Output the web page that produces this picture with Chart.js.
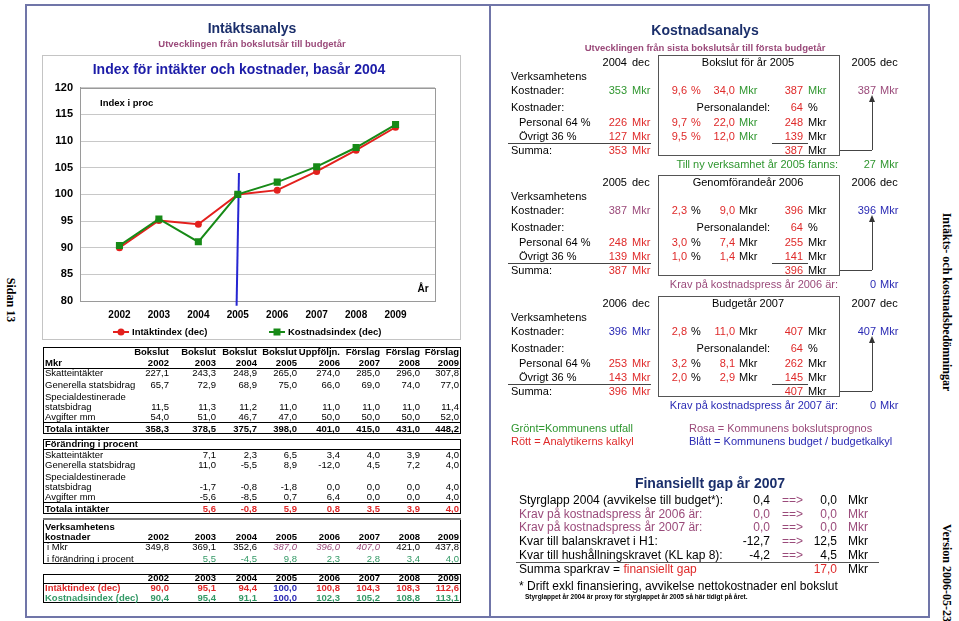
<!DOCTYPE html>
<html lang="sv">
<head>
<meta charset="utf-8">
<title>Intäkts- och kostnadsbedömningar</title>
<script src="https://cdn.jsdelivr.net/npm/chart.js@4.4.1/dist/chart.umd.min.js"></script>
<style>
  html, body { margin: 0; padding: 0; background: #fff; }
  body { position: relative; width: 959px; height: 621px; overflow: hidden; font-family: Arial, "Liberation Sans", sans-serif; }
  .t { position: absolute; white-space: nowrap; line-height: 1; font-size: 11px; color: #000; }
  .t.tab { line-height: 0.8; }
  .ln { position: absolute; background: #000; }
  .bx { position: absolute; box-sizing: border-box; }
  .pil { position: absolute; width: 0; height: 0; border-left: 3px solid transparent; border-right: 3px solid transparent; border-bottom: 7px solid #333; }
  .side { position: absolute; font-family: "Liberation Serif", "Times New Roman", serif; font-weight: bold; font-size: 12px; white-space: nowrap; line-height: 1; transform: translate(-50%, -50%) rotate(90deg); }
  #chartWrap { position: absolute; left: 43px; top: 56px; width: 417px; height: 283px; }
</style>
</head>
<body>
<div id="chartWrap"><canvas id="indexChart" width="417" height="283"></canvas></div>
<script>
// Chart data
const ar = [2002, 2003, 2004, 2005, 2006, 2007, 2008, 2009];
const intaktIndex = [90.0, 95.1, 94.4, 100.0, 100.8, 104.3, 108.3, 112.6];
const kostnadsIndex = [90.4, 95.4, 91.1, 100.0, 102.3, 105.2, 108.8, 113.1];
// blue marker line at the base year (drawn a bit past the axis)
const basX = [2005.03, 2004.97];
const basY = [104.0, 79.1];

// Table data (Mkr)
const rubrik = ["Bokslut", "Bokslut", "Bokslut", "Bokslut", "Uppföljn.", "Förslag", "Förslag", "Förslag"];
const skatteintakter = [227.1, 243.3, 248.9, 265.0, 274.0, 285.0, 296.0, 307.8];
const generella = [65.7, 72.9, 68.9, 75.0, 66.0, 69.0, 74.0, 77.0];
const specialdest = [11.5, 11.3, 11.2, 11.0, 11.0, 11.0, 11.0, 11.4];
const avgifter = [54.0, 51.0, 46.7, 47.0, 50.0, 50.0, 50.0, 52.0];
const totala = [358.3, 378.5, 375.7, 398.0, 401.0, 415.0, 431.0, 448.2];
const skattePct = [null, 7.1, 2.3, 6.5, 3.4, 4.0, 3.9, 4.0];
const generellaPct = [null, 11.0, -5.5, 8.9, -12.0, 4.5, 7.2, 4.0];
const specialPct = [null, -1.7, -0.8, -1.8, 0.0, 0.0, 0.0, 4.0];
const avgifterPct = [null, -5.6, -8.5, 0.7, 6.4, 0.0, 0.0, 4.0];
const totalaPct = [null, 5.6, -0.8, 5.9, 0.8, 3.5, 3.9, 4.0];
const kostnaderMkr = [349.8, 369.1, 352.6, 387.0, 396.0, 407.0, 421.0, 437.8];
const kostnaderPct = [null, 5.5, -4.5, 9.8, 2.3, 2.8, 3.4, 4.0];

// Finansiellt gap
const gapRubrik = ["Styrglapp 2004 (avvikelse till budget*):", "Krav på kostnadspress år 2006 är:",
  "Krav på kostnadspress år 2007 är:", "Kvar till balanskravet i H1:", "Kvar till hushållningskravet (KL kap 8):"];
const gapFore = [0.4, 0.0, 0.0, -12.7, -4.2];
const gapEfter = [0.0, 0.0, 0.0, 12.5, 4.5];
const gapSumma = 17.0;

const G = "#2f962f", R = "#df2a2a", P = "#9a4a7a", B = "#2a2ab4", K = "#000", NAVY = "#1b2f6b";
const TG = "#339966";

function txt(x, y, s, o) {
  o = o || {};
  const d = document.createElement("div");
  d.className = o.tab ? "t tab" : "t";
  if (o.html) d.innerHTML = s; else d.textContent = s;
  d.style.left = x + "px";
  d.style.top = y + "px";
  const ax = o.a === "r" ? "-100%" : o.a === "c" ? "-50%" : "0";
  d.style.transform = `translate(${ax},-50%)`;
  if (o.c) d.style.color = o.c;
  if (o.s) d.style.fontSize = o.s + "px";
  if (o.b) d.style.fontWeight = "bold";
  if (o.i) d.style.fontStyle = "italic";
  document.body.appendChild(d);
  return d;
}
function line(x1, y1, x2, y2, c, w) {
  const d = document.createElement("div");
  d.className = "ln";
  w = w || 1;
  if (y1 === y2) {
    d.style.left = x1 + "px"; d.style.top = (y1 - w / 2) + "px";
    d.style.width = (x2 - x1) + "px"; d.style.height = w + "px";
  } else {
    d.style.left = (x1 - w / 2) + "px"; d.style.top = y1 + "px";
    d.style.width = w + "px"; d.style.height = (y2 - y1) + "px";
  }
  d.style.background = c || "#000";
  document.body.appendChild(d);
}
function box(x1, y1, x2, y2, c, w) {
  const d = document.createElement("div");
  d.className = "bx";
  d.style.left = x1 + "px"; d.style.top = y1 + "px";
  d.style.width = (x2 - x1) + "px"; d.style.height = (y2 - y1) + "px";
  d.style.border = (w || 1) + "px solid " + (c || "#000");
  document.body.appendChild(d);
  return d;
}
function side(x, y, s) {
  const d = document.createElement("div");
  d.className = "side";
  d.textContent = s;
  d.style.left = x + "px"; d.style.top = y + "px";
  document.body.appendChild(d);
}
const fmt = (v) => v.toFixed(1).replace(".", ",");

// Frames and side texts
box(25, 4, 930, 618, "#7075a8", 2);
line(490, 4, 490, 618, "#7075a8", 2);
box(42, 55, 461, 340, "#c4c4c4", 1);
side(11, 300, "Sidan 13");
side(947, 302, "Intäkts- och kostnadsbedömningar");
side(947, 573, "Version 2006-05-23");

// Left panel headings
txt(252, 28, "Intäktsanalys", { a: "c", b: true, s: 14, c: NAVY });
txt(252, 44, "Utvecklingen från bokslutsår till budgetår", { a: "c", b: true, s: 9.5, c: P });

// Left tables
const kolR = [169, 216, 257, 297, 340, 380, 420, 459];
function rad(y, label, values, o) {
  o = o || {};
  if (label) txt(o.x || 45, y, label, { s: 9.5, b: o.lb, c: o.lc, tab: true });
  if (!values) return;
  values.forEach((v, i) => {
    if (v === null) return;
    const st = { a: "r", s: 9.5, b: o.b, c: o.c, tab: true };
    if (o.special) Object.assign(st, o.special(i));
    txt(kolR[i], y, typeof v === "number" ? fmt(v) : v, st);
  });
}

box(43, 347, 461, 434);
rubrik.forEach((r, i) => txt(kolR[i], 352, r, { a: "r", s: 9.5, b: true, tab: true }));
rad(363, "Mkr", ar.map(String), { b: true, lb: true });
line(43, 368, 461, 368);
rad(373, "Skatteintäkter", skatteintakter);
rad(385, "Generella statsbidrag", generella);
rad(397, "Specialdestinerade", null);
rad(407, "statsbidrag", specialdest);
rad(417, "Avgifter mm", avgifter);
line(43, 422, 461, 422);
rad(429, "Totala intäkter", totala, { b: true, lb: true });

box(43, 439, 461, 514);
rad(444, "Förändring i procent", null, { lb: true });
line(43, 449, 461, 449);
rad(455, "Skatteintäkter", skattePct);
rad(465, "Generella statsbidrag", generellaPct);
rad(477, "Specialdestinerade", null);
rad(487, "statsbidrag", specialPct);
rad(497, "Avgifter mm", avgifterPct);
line(43, 502, 461, 502);
rad(509, "Totala intäkter", totalaPct, { b: true, lb: true, c: R });

box(43, 519, 461, 564);
line(43, 519, 461, 519, "#777", 2);
rad(527, "Verksamhetens", null, { lb: true });
rad(537, "kostnader", ar.map(String), { b: true, lb: true });
line(43, 542, 461, 542);
rad(547, "i Mkr", kostnaderMkr, { x: 47, special: (i) => (i >= 3 && i <= 5 ? { i: true, c: P } : {}) });
rad(559, "i förändring i procent", kostnaderPct, { x: 47, c: TG });

box(43, 574, 461, 603);
rad(578, "", ar.map(String), { b: true });
line(43, 583, 461, 583);
rad(588, "Intäktindex (dec)", intaktIndex, { b: true, lb: true, lc: R, c: R, special: (i) => (i === 3 ? { c: B } : {}) });
rad(598, "Kostnadsindex (dec)", kostnadsIndex, { b: true, lb: true, lc: TG, c: TG, special: (i) => (i === 3 ? { c: B } : {}) });

// Right panel
txt(705, 30, "Kostnadsanalys", { a: "c", b: true, s: 14, c: NAVY });
txt(705, 48, "Utvecklingen från sista bokslutsår till första budgetår", { a: "c", b: true, s: 9.5, c: P });

const sektioner = [
  { y: 62, start: "2004", ruta: "Bokslut för år 2005", slut: "2005",
    kost: [353, 9.6, 34.0, 387, 387], personal: [226, 9.7, 22.0, 248], ovrigt: [127, 9.5, 12.0, 139], summa: [353, 387],
    andel: 64, bFarg: G, fFarg: P, pctEnhet: R, dEnhet: G, eKostEnhet: G,
    fot: "Till ny verksamhet år 2005 fanns:", fotFarg: G, fotVarde: 27, fotVardeFarg: G },
  { y: 182, start: "2005", ruta: "Genomförandeår 2006", slut: "2006",
    kost: [387, 2.3, 9.0, 396, 396], personal: [248, 3.0, 7.4, 255], ovrigt: [139, 1.0, 1.4, 141], summa: [387, 396],
    andel: 64, bFarg: P, fFarg: B, pctEnhet: K, dEnhet: K, eKostEnhet: K,
    fot: "Krav på kostnadspress år 2006 är:", fotFarg: P, fotVarde: 0, fotVardeFarg: B },
  { y: 303, start: "2006", ruta: "Budgetår 2007", slut: "2007",
    kost: [396, 2.8, 11.0, 407, 407], personal: [253, 3.2, 8.1, 262], ovrigt: [143, 2.0, 2.9, 145], summa: [396, 407],
    andel: 64, bFarg: B, fFarg: B, pctEnhet: K, dEnhet: K, eKostEnhet: K,
    fot: "Krav på kostnadspress år 2007 är:", fotFarg: B, fotVarde: 0, fotVardeFarg: B },
];

function cell(rx, lx, y, v, unit, c, uc) {
  txt(rx, y, v, { a: "r", c: c });
  txt(lx, y, unit, { c: uc });
}
function sektion(s) {
  const h = s.y;
  box(658, h - 7, 840, h + 94, "#555", 1.5);
  cell(627, 632, h, s.start, "dec", K, K);
  txt(748, h, s.ruta, { a: "c" });
  cell(876, 880, h, s.slut, "dec", K, K);
  txt(511, h + 14, "Verksamhetens");
  txt(511, h + 28, "Kostnader:");
  cell(627, 632, h + 28, String(s.kost[0]), "Mkr", s.bFarg, s.bFarg);
  cell(687, 691, h + 28, fmt(s.kost[1]), "%", R, s.pctEnhet);
  cell(735, 739, h + 28, fmt(s.kost[2]), "Mkr", R, s.dEnhet);
  cell(803, 808, h + 28, String(s.kost[3]), "Mkr", R, s.eKostEnhet);
  cell(876, 880, h + 28, String(s.kost[4]), "Mkr", s.fFarg, s.fFarg);
  txt(511, h + 45, "Kostnader:");
  txt(770, h + 45, "Personalandel:", { a: "r" });
  cell(803, 808, h + 45, String(s.andel), "%", R, K);
  [["Personal 64 %", s.personal, h + 60], ["Övrigt 36 %", s.ovrigt, h + 74]].forEach(([lab, v, y]) => {
    txt(519, y, lab);
    cell(627, 632, y, String(v[0]), "Mkr", R, R);
    cell(687, 691, y, fmt(v[1]), "%", R, s.pctEnhet);
    cell(735, 739, y, fmt(v[2]), "Mkr", R, s.dEnhet);
    cell(803, 808, y, String(v[3]), "Mkr", R, K);
  });
  line(508, h + 81, 651, h + 81, "#444");
  line(772, h + 81, 808, h + 81, "#444");
  txt(511, h + 88, "Summa:");
  cell(627, 632, h + 88, String(s.summa[0]), "Mkr", R, R);
  cell(803, 808, h + 88, String(s.summa[1]), "Mkr", R, K);
  // connector up to next year's value
  line(840, h + 88, 872, h + 88, "#444");
  line(872, h + 36, 872, h + 88, "#444");
  const p = document.createElement("div");
  p.className = "pil";
  p.style.left = "869px"; p.style.top = (h + 33) + "px";
  document.body.appendChild(p);
  txt(838, h + 102, s.fot, { a: "r", c: s.fotFarg });
  cell(876, 880, h + 102, String(s.fotVarde), "Mkr", s.fotVardeFarg, s.fotVardeFarg);
}
sektioner.forEach(sektion);

txt(511, 428, "Grönt=Kommunens utfall", { c: G });
txt(689, 428, "Rosa = Kommunens bokslutsprognos", { c: P });
txt(511, 441, "Rött = Analytikerns kalkyl", { c: R });
txt(689, 441, "Blått = Kommunens budget / budgetkalkyl", { c: B });

txt(710, 483, "Finansiellt gap år 2007", { a: "c", b: true, s: 14, c: NAVY });
const gapY = [500, 514, 527, 541, 555];
const gapFarg = [K, P, P, K, K];
gapRubrik.forEach((lab, i) => {
  const y = gapY[i], c = gapFarg[i];
  txt(519, y, lab, { s: 12, c: c });
  txt(770, y, fmt(gapFore[i]), { a: "r", s: 12, c: c });
  txt(782, y, "==>", { s: 12, c: P });
  txt(837, y, fmt(gapEfter[i]), { a: "r", s: 12, c: c });
  txt(848, y, "Mkr", { s: 12, c: c });
});
line(516, 562, 879, 562, "#555");
txt(519, 569, 'Summa sparkrav = <span style="color:' + R + '">finansiellt gap</span>', { s: 12, html: true });
txt(837, 569, fmt(gapSumma), { a: "r", s: 12, c: R });
txt(848, 569, "Mkr", { s: 12 });
txt(519, 586, "* Drift exkl finansiering, avvikelse nettokostnader enl bokslut", { s: 12 });
txt(525, 597, "Styrglappet år 2004 är proxy för styrglappet år 2005 så här tidigt på året.", { s: 6.5, b: true });

// Chart
Chart.defaults.font.family = "Arial, 'Liberation Sans', sans-serif";
const RED = "#e3201d", GREEN = "#178a17", BLUE = "#2626d2";

const plotFrame = {
  id: "plotFrame",
  beforeDatasetsDraw(chart) {
    const { ctx, chartArea: a } = chart;
    ctx.save();
    ctx.strokeStyle = "#9a9a9a";
    ctx.lineWidth = 1;
    ctx.strokeRect(Math.round(a.left) + 0.5, Math.round(a.top) + 0.5, Math.round(a.right - a.left), Math.round(a.bottom - a.top));
    ctx.restore();
  },
};

const chartTexts = {
  id: "chartTexts",
  afterDraw(chart) {
    const { ctx, chartArea: a } = chart;
    ctx.save();
    ctx.fillStyle = "#000";
    ctx.font = "bold 9.5px Arial, 'Liberation Sans', sans-serif";
    ctx.textBaseline = "middle";
    ctx.fillText("Index i proc", a.left + 20, a.top + 16);
    ctx.font = "bold 10px Arial, 'Liberation Sans', sans-serif";
    ctx.textAlign = "center";
    ctx.fillText("År", a.right - 12, a.bottom - 12);
    // legend: line with marker, then label
    const items = [
      { ds: chart.data.datasets[0], x0: 70, x1: 86, tx: 89 },
      { ds: chart.data.datasets[1], x0: 226, x1: 242, tx: 245 },
    ];
    const y = 276;
    ctx.textAlign = "left";
    ctx.font = "bold 9.5px Arial, 'Liberation Sans', sans-serif";
    items.forEach((it) => {
      const c = it.ds.borderColor;
      ctx.strokeStyle = c;
      ctx.fillStyle = c;
      ctx.lineWidth = 2;
      ctx.beginPath();
      ctx.moveTo(it.x0, y);
      ctx.lineTo(it.x1, y);
      ctx.stroke();
      const mx = (it.x0 + it.x1) / 2;
      if (it.ds.pointStyle === "rect") {
        ctx.fillRect(mx - 3.5, y - 3.5, 7, 7);
      } else {
        ctx.beginPath();
        ctx.arc(mx, y, 3.5, 0, Math.PI * 2);
        ctx.fill();
      }
      ctx.fillStyle = "#000";
      ctx.fillText(it.ds.label, it.tx, y);
    });
    ctx.restore();
  },
};

new Chart(document.getElementById("indexChart").getContext("2d"), {
  type: "line",
  data: {
    datasets: [
      {
        label: "Intäktindex (dec)",
        data: ar.map((x, i) => ({ x: x, y: intaktIndex[i] })),
        borderColor: RED,
        backgroundColor: RED,
        borderWidth: 2,
        pointStyle: "circle",
        pointRadius: 3.5,
        pointBorderWidth: 0,
        order: 2,
      },
      {
        label: "Kostnadsindex (dec)",
        data: ar.map((x, i) => ({ x: x, y: kostnadsIndex[i] })),
        borderColor: GREEN,
        backgroundColor: GREEN,
        borderWidth: 2,
        pointStyle: "rect",
        pointRadius: 5,
        pointBorderWidth: 0,
        order: 1,
      },
      {
        label: "basår",
        data: basX.map((x, i) => ({ x: x, y: basY[i] })),
        borderColor: BLUE,
        borderWidth: 2,
        pointRadius: 0,
        clip: false,
        order: 3,
      },
    ],
  },
  options: {
    responsive: false,
    animation: false,
    layout: { padding: { left: 0, right: 25, top: 0, bottom: 18 } },
    plugins: {
      legend: { display: false },
      tooltip: { enabled: false },
      title: {
        display: true,
        text: "Index för intäkter och kostnader, basår 2004",
        color: "#1c1ca8",
        font: { size: 14, weight: "bold" },
        padding: { top: 6, bottom: 9 },
      },
    },
    scales: {
      x: {
        type: "linear",
        min: 2001,
        max: 2010,
        afterFit: (s) => { s.height = 20; },
        grid: { display: false, drawTicks: false },
        border: { color: "#999" },
        ticks: {
          stepSize: 1,
          autoSkip: false,
          maxRotation: 0,
          padding: 8,
          color: "#000",
          font: { size: 10, weight: "bold" },
          callback: (v) => (v >= 2002 && v <= 2009 ? String(v) : ""),
        },
      },
      y: {
        min: 80,
        max: 120,
        afterFit: (s) => { s.width = 37; },
        grid: { color: "#c8c8c8", drawTicks: false },
        border: { color: "#999" },
        ticks: { stepSize: 5, padding: 7, color: "#000", font: { size: 11, weight: "bold" } },
      },
    },
  },
  plugins: [plotFrame, chartTexts],
});
</script>
</body>
</html>
